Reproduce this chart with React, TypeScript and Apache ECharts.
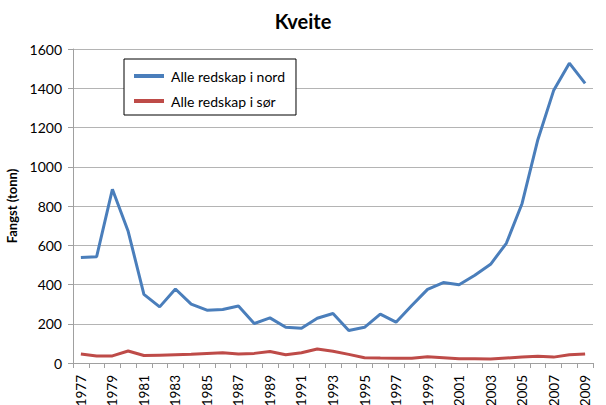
import React, { useEffect, useRef } from "react";
import * as echarts from "echarts";

const years = [
  "1977","1978","1979","1980","1981","1982","1983","1984","1985","1986","1987",
  "1988","1989","1990","1991","1992","1993","1994","1995","1996","1997","1998",
  "1999","2000","2001","2002","2003","2004","2005","2006","2007","2008","2009",
];
const nord = [
  537, 542, 885, 671, 350, 286, 377, 300, 269, 273, 290,
  201, 230, 182, 177, 228, 252, 166, 182, 249, 208, 293,
  375, 410, 399, 447, 503, 610, 813, 1138, 1388, 1528, 1425,
];
const sor = [
  46, 36, 36, 61, 38, 40, 42, 44, 48, 52, 46,
  49, 59, 42, 52, 71, 60, 44, 27, 25, 24, 24,
  32, 27, 22, 22, 20, 25, 30, 34, 30, 42, 46,
];

const FONT = "Lato, 'Open Sans', sans-serif";

export default function App() {
  const ref = useRef<HTMLDivElement>(null);
  useEffect(() => {
    const chart = echarts.init(ref.current!, undefined, { renderer: "svg" });
    chart.setOption({
      animation: false,
      textStyle: { fontFamily: FONT },
      title: {
        text: "Kveite",
        left: "center",
        top: 6,
        textStyle: { fontFamily: FONT, fontSize: 20, fontWeight: "bold", color: "#000" },
      },
      legend: {
        orient: "vertical",
        left: 124,
        top: 59,
        padding: [10, 11, 7, 10],
        itemGap: 11,
        itemWidth: 30,
        itemHeight: 4,
        icon: "rect",
        borderColor: "#000",
        borderWidth: 1,
        backgroundColor: "#fff",
        textStyle: { fontFamily: FONT, fontSize: 14, color: "#000", padding: [0, 0, 0, 2] },
        data: ["Alle redskap i nord", "Alle redskap i sør"],
      },
      grid: { left: 73, right: 13, top: 49, bottom: 42, containLabel: false, outerBoundsMode: "none" },
      xAxis: {
        type: "category",
        data: years,
        boundaryGap: true,
        axisLine: { lineStyle: { color: "#a0a0a0", width: 1 } },
        axisTick: { show: true, interval: 0, length: 5, lineStyle: { color: "#a0a0a0" } },
        axisLabel: {
          interval: 1,
          rotate: 90,
          fontFamily: FONT,
          fontSize: 13.5,
          color: "#000",
          margin: 12,
          hideOverlap: false,
        },
      },
      yAxis: {
        type: "value",
        min: 0,
        max: 1600,
        interval: 200,
        name: "Fangst (tonn)",
        nameLocation: "middle",
        nameGap: 52,
        nameRotate: 90,
        nameTextStyle: { fontFamily: FONT, fontSize: 13, fontWeight: "bold", color: "#000" },
        axisLine: { show: true, lineStyle: { color: "#a0a0a0", width: 1 } },
        axisTick: { show: true, length: 5, lineStyle: { color: "#a0a0a0" } },
        axisLabel: {
          fontFamily: FONT,
          fontSize: 14,
          color: "#000",
          margin: 11,
          formatter: (v: number) => String(v),
        },
        splitLine: { lineStyle: { color: "#b4b4b4", width: 1 } },
      },
      series: [
        {
          name: "Alle redskap i nord",
          type: "line",
          data: nord,
          symbol: "none",
          lineStyle: { color: "#4A7EBB", width: 3 },
          itemStyle: { color: "#4A7EBB" },
        },
        {
          name: "Alle redskap i sør",
          type: "line",
          data: sor,
          symbol: "none",
          lineStyle: { color: "#BE4B48", width: 3 },
          itemStyle: { color: "#BE4B48" },
        },
      ],
    });
    return () => chart.dispose();
  }, []);
  return <div ref={ref} style={{ width: 606, height: 405, position: "absolute", left: 0, top: 0 }} />;
}
